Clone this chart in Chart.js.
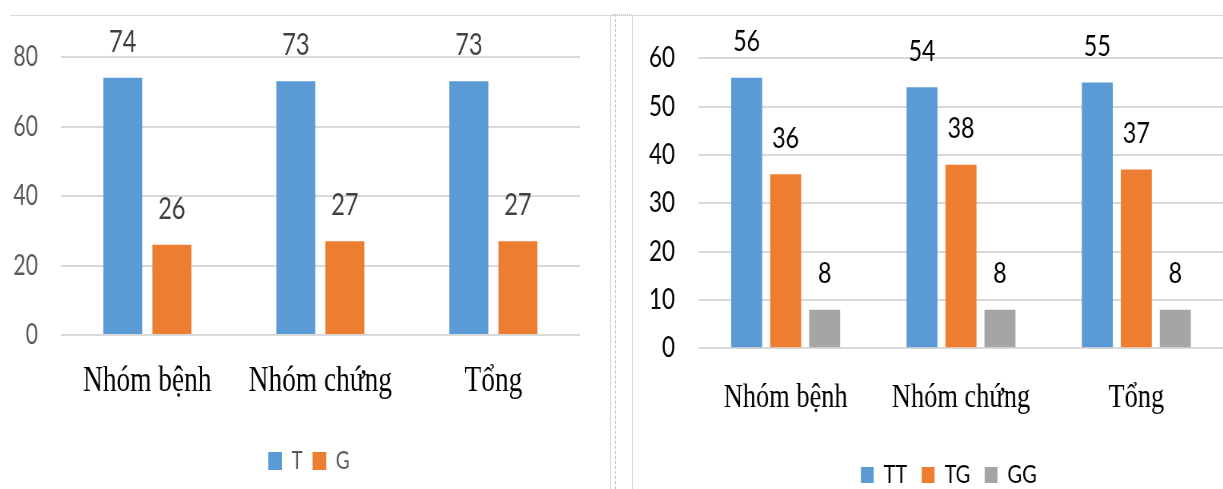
<!DOCTYPE html>
<html>
<head>
<meta charset="utf-8">
<script src="https://cdn.jsdelivr.net/npm/chart.js@4/dist/chart.umd.min.js"></script>
<style>
  html, body { margin: 0; padding: 0; background: #fff; }
  body { width: 1223px; height: 489px; overflow: hidden; position: relative; }
  .panel { position: absolute; top: 15px; height: 500px; }
  .panel canvas { transform-origin: 0 0; }
  #leftBox { left: 0; width: 796px; }
  #leftBox canvas { transform: scaleX(0.76); }
  #rightBox { left: 632px; width: 741px; }
  #rightBox canvas { transform: scaleX(0.8); }
  .rule { position: absolute; background: #d9d9d9; }
</style>
</head>
<body>
<div class="rule" style="left:10px; top:15px; width:1213px; height:1px"></div>
<div class="rule" style="left:610px; top:15px; width:1px; height:474px"></div>
<div style="position:absolute; left:615px; top:14px; height:475px; border-left:1px dashed #c4c4c4"></div>
<div style="position:absolute; left:612px; top:14px; width:20px; border-top:1px dotted #c4c4c4"></div>
<div class="rule" style="left:632px; top:15px; width:1px; height:474px"></div>

<div class="panel" id="leftBox"><canvas id="leftChart"></canvas></div>
<div class="panel" id="rightBox"><canvas id="rightChart"></canvas></div>

<script>
// categories shared by both charts
const categories = ['Nhóm bệnh', 'Nhóm chứng', 'Tổng'];

// left chart: T / G
const leftLabels = ['T', 'G'];
const valuesT = [74, 73, 73];
const valuesG = [26, 27, 27];
const leftAxis = { min: 0, max: 80, step: 20 };

// right chart: TT / TG / GG
const rightLabels = ['TT', 'TG', 'GG'];
const valuesTT = [56, 54, 55];
const valuesTG = [36, 38, 37];
const valuesGG = [8, 8, 8];
const rightAxis = { min: 0, max: 60, step: 10 };

const BLUE = '#5b9bd5';
const ORANGE = '#ed7d31';
const GRAY = '#a5a5a5';

// writes each bar's value above it
const barValueLabels = {
    id: 'barValueLabels',
    afterDatasetsDraw(chart, args, opts) {
        const ctx = chart.ctx;
        ctx.save();
        ctx.font = opts.font;
        ctx.fillStyle = opts.color;
        ctx.textAlign = 'center';
        ctx.textBaseline = 'middle';
        chart.data.datasets.forEach((ds, i) => {
            chart.getDatasetMeta(i).data.forEach((bar, j) => {
                ctx.fillText(String(ds.data[j]), bar.x, bar.y - opts.offset);
            });
        });
        ctx.restore();
    }
};

// nudges the legend sideways after layout
const legendShift = {
    id: 'legendShift',
    afterLayout(chart, args, opts) {
        chart.legend.left += opts.dx;
        chart.legend.right += opts.dx;
    }
};

function buildChart(id, s) {
    return new Chart(document.getElementById(id), {
        type: 'bar',
        data: {
            labels: categories,
            datasets: s.datasets.map(d => ({
                label: d.label,
                data: d.data,
                backgroundColor: d.color,
                borderWidth: 0,
                categoryPercentage: s.catPct,
                barPercentage: 0.795
            }))
        },
        plugins: [barValueLabels, legendShift],
        options: {
            responsive: true,
            maintainAspectRatio: false,
            animation: false,
            events: [],
            layout: { padding: s.padding },
            plugins: {
                tooltip: { enabled: false },
                legend: {
                    position: 'bottom',
                    labels: {
                        boxWidth: s.boxW,
                        boxHeight: s.boxH,
                        padding: s.legendPad,
                        color: s.textColor,
                        font: { family: 'Lato', size: 25 }
                    }
                },
                legendShift: { dx: s.legendDx },
                barValueLabels: { font: s.valueFont, color: s.valueColor, offset: 36 }
            },
            scales: {
                x: {
                    grid: { display: false, drawTicks: false },
                    border: { display: false },
                    ticks: {
                        padding: s.catPadding,
                        color: '#000',
                        font: { family: '"Liberation Serif", "Times New Roman", serif', size: s.catSize }
                    },
                    afterFit(scale) { scale.height = s.xHeight; }
                },
                y: {
                    min: s.axis.min,
                    max: s.axis.max,
                    grid: { color: '#d9d9d9', lineWidth: 2, drawTicks: false },
                    border: { display: false },
                    ticks: {
                        stepSize: s.axis.step,
                        padding: s.tickPad,
                        color: s.textColor,
                        // small line height keeps the axis from padding the top of the plot
                        font: { family: 'Lato', size: 28, lineHeight: 0.6 }
                    },
                    afterFit(scale) { scale.width = s.yWidth; }
                }
            }
        }
    });
}

buildChart('leftChart', {
    datasets: [
        { label: leftLabels[0], data: valuesT, color: BLUE },
        { label: leftLabels[1], data: valuesG, color: ORANGE }
    ],
    axis: leftAxis,
    catPct: 0.567,
    padding: { left: 0, right: 33, top: 42, bottom: 31.5 },
    yWidth: 80,
    tickPad: 30,
    xHeight: 100.5,
    catPadding: 25,
    catSize: 36,
    boxW: 18, boxH: 18, legendPad: 13, legendDx: 25,
    textColor: '#595959',
    valueFont: '31px Lato',
    valueColor: '#404040'
});

buildChart('rightChart', {
    datasets: [
        { label: rightLabels[0], data: valuesTT, color: BLUE },
        { label: rightLabels[1], data: valuesTG, color: ORANGE },
        { label: rightLabels[2], data: valuesGG, color: GRAY }
    ],
    axis: rightAxis,
    catPct: 0.667,
    padding: { left: 0, right: 1, top: 43.3, bottom: 17.5 },
    yWidth: 82.5,
    tickPad: 28.75,
    xHeight: 96.2,
    catPadding: 30.5,
    catSize: 33,
    boxW: 16, boxH: 16, legendPad: 18, legendDx: 26,
    textColor: '#000',
    valueFont: '29px Lato',
    valueColor: '#000'
});
</script>
</body>
</html>
